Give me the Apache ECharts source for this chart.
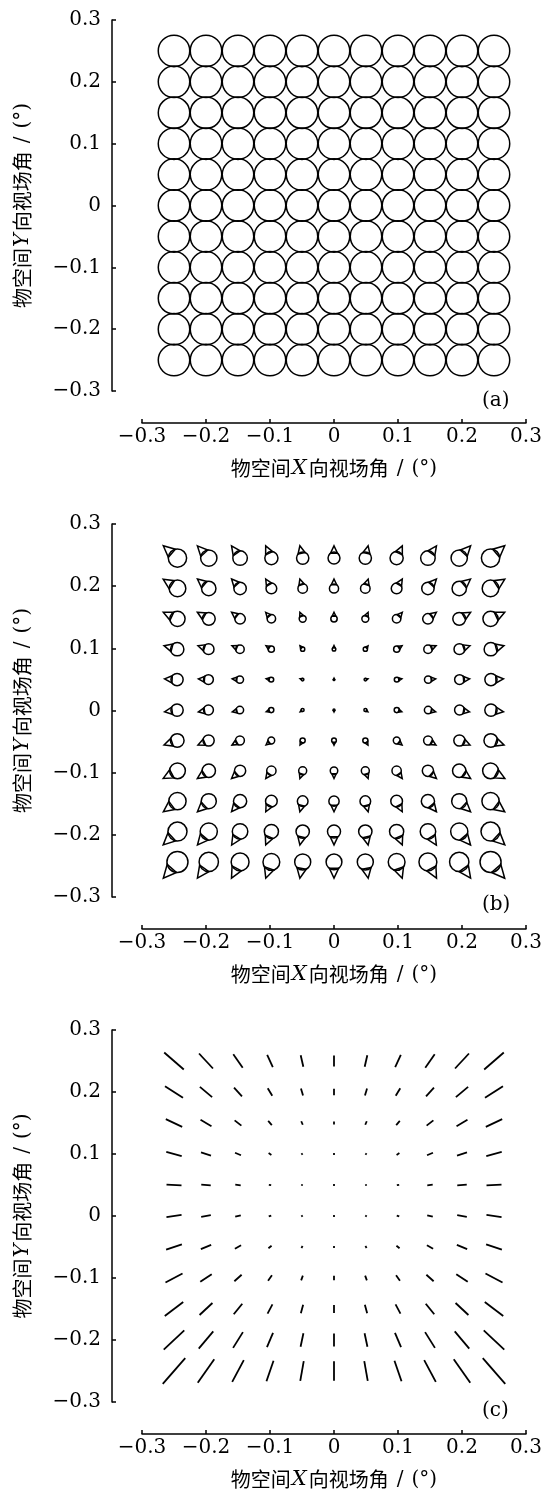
<!DOCTYPE html>
<html><head><meta charset="utf-8">
<script src="https://cdn.jsdelivr.net/npm/echarts@6/dist/echarts.min.js"></script>
<style>html,body{margin:0;padding:0;background:#fff}#c{width:544px;height:1495px}</style>
</head><body><div id="c"></div>
<script>
// ---- data ----
const fieldX = [-0.25,-0.2,-0.15,-0.1,-0.05,0,0.05,0.1,0.15,0.2,0.25];
const fieldY = [0.25,0.2,0.15,0.1,0.05,0,-0.05,-0.1,-0.15,-0.2,-0.25];
const axisTicks = [-0.3,-0.2,-0.1,0,0.1,0.2,0.3];
const spotRadiusA = 0.025;          // panel (a) spot radius, deg
// panel (b) coma spot size (x100), rows top→bottom, cols left→right
const comaSize = [
 [33.0,29.4,26.2,23.7,22.1,21.5,22.1,23.7,26.2,29.4,33.0],
 [30.0,25.9,22.3,19.3,17.2,16.5,17.2,19.3,22.3,25.9,30.0],
 [27.5,23.1,18.9,15.2,12.5,11.5,12.5,15.2,18.9,23.1,27.5],
 [24.0,19.5,15.3,11.1, 7.6, 6.5, 7.6,11.1,15.3,19.5,24.0],
 [22.0,17.7,13.3, 8.9, 4.6, 1.5, 4.6, 8.9,13.3,17.7,22.0],
 [22.2,17.9,13.6, 9.3, 5.4, 3.5, 5.4, 9.3,13.6,17.9,22.2],
 [24.6,20.2,16.0,12.2, 9.2, 8.5, 9.2,12.2,16.0,20.2,24.6],
 [28.4,24.1,20.2,16.8,14.4,13.5,14.4,16.8,20.2,24.1,28.4],
 [31.1,27.2,23.8,21.0,19.2,18.5,19.2,21.0,23.8,27.2,31.1],
 [34.3,30.9,27.9,25.5,24.0,23.5,24.0,25.5,27.9,30.9,34.3],
 [37.9,34.8,32.2,30.2,28.9,28.5,28.9,30.2,32.2,34.8,37.9]
];
// panel (c) astigmatism magnitude (x100)
const astigSize = [
 [10.9, 8.6, 6.9, 5.6, 4.9, 4.6, 4.9, 5.6, 6.9, 8.6,10.9],
 [ 9.0, 6.7, 5.0, 3.7, 3.0, 2.7, 3.0, 3.7, 5.0, 6.7, 9.0],
 [ 7.6, 5.3, 3.6, 2.3, 1.6, 1.3, 1.6, 2.3, 3.6, 5.3, 7.6],
 [ 6.7, 4.4, 2.7, 1.4, 0.7, 0.4, 0.7, 1.4, 2.7, 4.4, 6.7],
 [ 6.3, 4.0, 2.3, 1.0, 0.3, 0.0, 0.3, 1.0, 2.3, 4.0, 6.3],
 [ 6.4, 4.1, 2.4, 1.1, 0.4, 0.1, 0.4, 1.1, 2.4, 4.1, 6.4],
 [ 7.0, 4.7, 3.0, 1.7, 1.0, 0.7, 1.0, 1.7, 3.0, 4.7, 7.0],
 [ 8.1, 5.8, 4.1, 2.8, 2.1, 1.8, 2.1, 2.8, 4.1, 5.8, 8.1],
 [ 9.7, 7.4, 5.7, 4.4, 3.7, 3.4, 3.7, 4.4, 5.7, 7.4, 9.7],
 [11.8, 9.5, 7.8, 6.5, 5.8, 5.5, 5.8, 6.5, 7.8, 9.5,11.8],
 [14.4,12.1,10.4, 9.1, 8.4, 8.1, 8.4, 9.1,10.4,12.1,14.4]
];
// orientation (deg, counter-clockwise from +X) of coma tail / astig line
const fieldAngle = [
 [139,133,125,115,103, 90, 77, 65, 55, 47, 41],
 [147,140,132,121,107, 90, 73, 59, 48, 40, 33],
 [155,150,142,131,113, 90, 67, 49, 38, 30, 25],
 [165,162,157,147,128, 90, 52, 33, 23, 18, 15],
 [177,176,174,171,163, 90, 17,  9,  6,  4,  3],
 [-172,-170,-167,-161,-145,-90,-35,-19,-13,-10,-8],
 [-161,-157,-150,-140,-120,-90,-60,-40,-30,-23,-19],
 [-152,-146,-138,-126,-110,-90,-70,-54,-42,-34,-28],
 [-143,-137,-129,-118,-105,-90,-75,-62,-51,-43,-37],
 [-137,-130,-122,-113,-102,-90,-78,-67,-58,-50,-43],
 [-131,-125,-118,-109,-100,-90,-80,-71,-62,-55,-49]
];
const panelLabels = ['(a)','(b)','(c)'];
const xTitle = ['物空间','X','向视场角'];
const yTitle = ['物空间','Y','向视场角'];

// ---- build ----
function cells(table){
  const out=[];
  fieldY.forEach((y,r)=>fieldX.forEach((x,c)=>{
    out.push([x,y,table?table[r][c]:spotRadiusA,fieldAngle[r][c]]);
  }));
  return out;
}
const COMA_K = 0.044, TAIL_RATIO = 2.05, COMA_SHIFT = 0.5, BASE_ANGLE = 36, ASTIG_K = 0.378;
const LW = 1.5, INK = '#000';
function ppd(api){const s=api.size([1,1]);return (s[0]+s[1])/2;}
function renderSpot(p,api){
  const c=api.coord([api.value(0),api.value(1)]);
  const r=api.value(2)*ppd(api);
  return {type:'circle',shape:{cx:c[0],cy:c[1],r:r},style:{fill:'none',stroke:INK,lineWidth:LW}};
}
function renderComa(p,api){
  const g=api.coord([api.value(0),api.value(1)]);
  const R=Math.max(api.value(2)/100*COMA_K*ppd(api),0.8);
  const th=api.value(3)*Math.PI/180;
  const ux=Math.cos(th), uy=-Math.sin(th);
  const c=[g[0]-ux*COMA_SHIFT*R, g[1]-uy*COMA_SHIFT*R];
  const d=TAIL_RATIO*R;
  const ax=c[0]+ux*d, ay=c[1]+uy*d;
  const phi=BASE_ANGLE*Math.PI/180, cp=Math.cos(phi), sp=Math.sin(phi);
  const p1=[c[0]+R*(ux*cp-uy*sp), c[1]+R*(ux*sp+uy*cp)];
  const p2=[c[0]+R*(ux*cp+uy*sp), c[1]+R*(-ux*sp+uy*cp)];
  return {type:'group',children:[
    {type:'circle',shape:{cx:c[0],cy:c[1],r:R},style:{fill:'none',stroke:INK,lineWidth:LW}},
    {type:'polygon',shape:{points:[[ax,ay],p1,p2]},style:{fill:'none',stroke:INK,lineWidth:LW,lineJoin:'miter'}}
  ]};
}
function renderAstig(p,api){
  const c=api.coord([api.value(0),api.value(1)]);
  const L=Math.max(api.value(2)/100*ASTIG_K*ppd(api),1.8);
  const th=api.value(3)*Math.PI/180;
  const dx=Math.cos(th)*L/2, dy=-Math.sin(th)*L/2;
  return {type:'line',shape:{x1:c[0]-dx,y1:c[1]-dy,x2:c[0]+dx,y2:c[1]+dy},style:{stroke:INK,lineWidth:1.8,lineCap:'butt'}};
}
function fmt(v){const r=Math.round(v*10)/10; if(r===0) return '0'; return (r<0?'\u2212':'')+Math.abs(r).toFixed(1);}
const rich={
  c:{fontFamily:'Noto Sans CJK SC',fontSize:20,color:INK},
  i:{fontFamily:'DejaVu Serif',fontStyle:'italic',fontSize:21,color:INK,padding:[0,2,0,1]},
  s:{fontFamily:'DejaVu Serif',fontSize:20,color:INK,padding:[0,8,0,8]},
  p:{fontFamily:'DejaVu Serif',fontSize:20,color:INK}
};
function title(t){return '{c|'+t[0]+'}{i|'+t[1]+'}{c|'+t[2]+'}{s|/}{p|(°)}';}
const tops=[20,524,1030], heights=[371,373,372];
const grids=tops.map((t,i)=>({left:142,width:384,top:t,height:heights[i],containLabel:false,outerBoundsMode:'none'}));
const labelStyle={fontFamily:'DejaVu Serif',fontSize:20,color:INK,formatter:fmt};
const xAxes=tops.map((t,i)=>({gridIndex:i,type:'value',min:axisTicks[0],max:axisTicks[axisTicks.length-1],interval:0.1,
  position:'bottom',offset:32,
  axisLine:{show:true,onZero:false,lineStyle:{color:INK,width:LW}},
  axisTick:{show:true,inside:true,length:4,lineStyle:{color:INK,width:LW}},
  axisLabel:Object.assign({margin:4},labelStyle),splitLine:{show:false},
  name:title(xTitle),nameLocation:'middle',nameGap:35,nameTextStyle:{rich:rich}}));
const yAxes=tops.map((t,i)=>({gridIndex:i,type:'value',min:axisTicks[0],max:axisTicks[axisTicks.length-1],interval:0.1,
  position:'left',offset:30,
  axisLine:{show:true,onZero:false,lineStyle:{color:INK,width:LW}},
  axisTick:{show:true,inside:true,length:4,lineStyle:{color:INK,width:LW}},
  axisLabel:Object.assign({margin:11},labelStyle),splitLine:{show:false},
  name:title(yTitle),nameLocation:'middle',nameRotate:90,nameGap:79,nameTextStyle:{rich:rich}}));
const renderers=[renderSpot,renderComa,renderAstig];
const tables=[null,comaSize,astigSize];
const series=renderers.map((fn,i)=>({type:'custom',coordinateSystem:'cartesian2d',xAxisIndex:i,yAxisIndex:i,
  renderItem:fn,data:cells(tables[i]),encode:{x:0,y:1},silent:true,animation:false,clip:false}));
const graphics=panelLabels.map((s,i)=>({type:'text',left:482,top:tops[i]+371,style:{text:s,font:'20px "DejaVu Serif"',fill:INK}}));
const chart=echarts.init(document.getElementById('c'),null,{renderer:'canvas'});
chart.setOption({animation:false,backgroundColor:'#fff',grid:grids,xAxis:xAxes,yAxis:yAxes,series:series,graphic:graphics});
</script></body></html>
